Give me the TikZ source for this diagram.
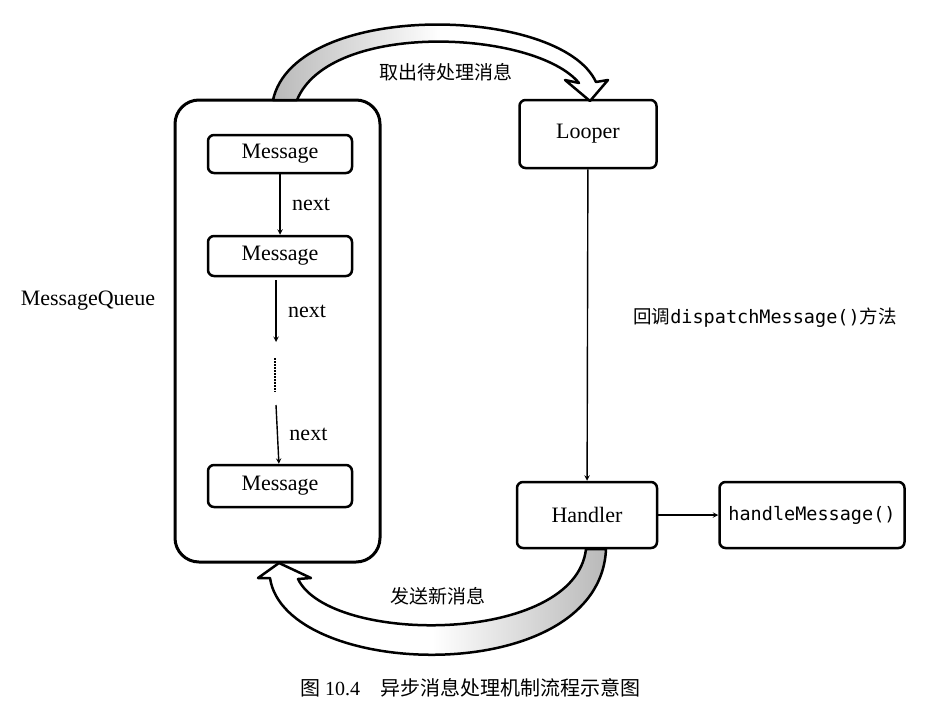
\documentclass[tikz,border=0pt]{standalone}
\usepackage{fontspec}
\setmainfont{Liberation Serif}
\setmonofont{DejaVu Sans Mono}
\newfontfamily\cjk{Noto Sans CJK SC}
\usetikzlibrary{arrows,positioning}

\tikzset{
  box/.style={draw, line width=2.5pt, rounded corners=6pt, inner sep=0pt},
  lbl/.style={font=\fontsize{22}{25}\selectfont},
  cjklbl/.style={font=\cjk\fontsize{19}{23}\selectfont},
  band/.style={draw, line width=2.5pt, line join=round}
}

\begin{document}
\begin{tikzpicture}[x=1pt, y=-1pt, >=stealth, line width=1.4pt]
\useasboundingbox (0,0) rectangle (926,707);

% message queue
\draw [line width=3pt, rounded corners=24pt] (175,100) rectangle (380,562);
\node [lbl] (mq) at (88,301) {MessageQueue};

\node [box, lbl, minimum width=144pt, minimum height=38pt] (msg1) at (280,154) {Message};
\node [box, lbl, minimum width=144pt, minimum height=40pt] (msg2) at (280,256) {Message};
\node [box, lbl, minimum width=144pt, minimum height=42pt] (msg3) at (280,486) {Message};
\coordinate (d1) at (276,280);
\coordinate (d2) at (276,342);
\coordinate (d3) at (276,405);

\draw [->] (msg1) -- node [lbl, right=8pt] {next} (msg2);
\draw [->] (d1) -- node [lbl, right=8pt] {next} (d2);
\draw [densely dotted, line width=2pt] (275,358) -- (275,392);
\draw [->] (d3) -- node [lbl, right=8pt] {next} (msg3);

% looper and handler
\node [box, lbl, minimum width=137pt, minimum height=68pt] (looper) at (588,134) {Looper};
\node [box, lbl, minimum width=140pt, minimum height=66pt] (handler) at (587,515) {Handler};
\node [box, font=\fontsize{18.5}{22}\ttfamily, minimum width=185pt, minimum height=66pt] (hm) at (812,515) {handleMessage()};

\draw [->] (looper) -- (handler);
\node [font=\fontsize{18.5}{22}\selectfont] (cb) at (765,318) {{\cjk 回调}\texttt{dispatchMessage()}{\cjk 方法}};
\draw [->] (handler) -- (hm);

% curved ribbons
\draw [band, left color=gray!55, right color=white, middle color=white]
  (273,100) .. controls (295,0) and (560,5) .. (596,82)
  -- (608,80) -- (590,101) -- (565,80) -- (579,83)
  .. controls (535,30) and (330,20) .. (297,100) -- cycle;
\node [cjklbl] (take) at (446,72) {取出待处理消息};

\draw [band, right color=gray!55, left color=white, middle color=white]
  (606,549) .. controls (600,690) and (285,680) .. (270,578)
  -- (258,578) -- (279,563) -- (311,578) -- (298,579)
  .. controls (330,645) and (575,645) .. (586,549) -- cycle;
\node [cjklbl] (send) at (438,596) {发送新消息};

% caption
\node [font=\fontsize{20}{24}\selectfont] (cap) at (470,688) {{\cjk 图} 10.4\quad{\cjk 异步消息处理机制流程示意图}};
\end{tikzpicture}
\end{document}
